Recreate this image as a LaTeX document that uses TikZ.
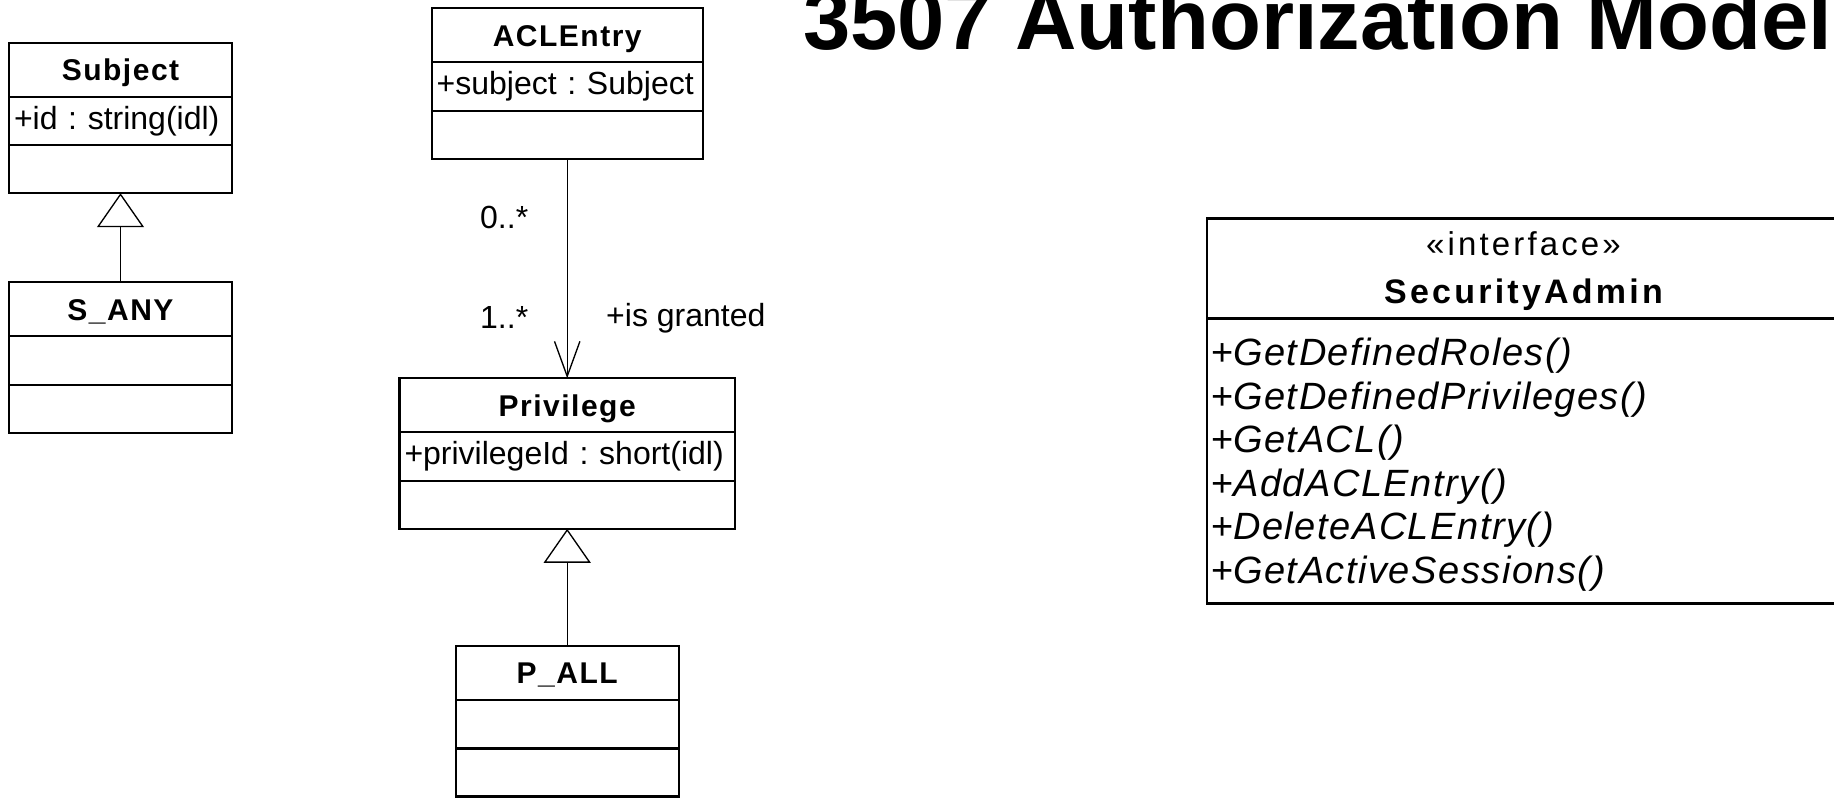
\documentclass[tikz,border=0pt]{standalone}
\usepackage{fontspec}
\setmainfont{Liberation Sans}
\newfontfamily\umlnamefont[LetterSpace=5]{Liberation Sans}
\newfontfamily\umlopfont[LetterSpace=4]{Liberation Sans}
\newfontfamily\umlwidefont[LetterSpace=9.5]{Liberation Sans}
\usetikzlibrary{positioning,arrows.meta}

\begin{document}
\frenchspacing
\begin{tikzpicture}[
    x=0.5pt, y=-0.5pt,
    every node/.style={outer sep=0pt},
    classname/.style={draw, rectangle, line width=1.15pt, minimum height=27pt, inner sep=0pt, text height=10.75pt, text depth=0pt, font=\umlnamefont\fontsize{15}{18}\bfseries},
    classattr/.style={draw, rectangle, line width=1.15pt, minimum height=24.25pt, inner xsep=2.5pt, align=left, font=\fontsize{16}{19}\selectfont},
    classops/.style={draw, rectangle, line width=1.15pt, minimum height=24pt},
    ifacebox/.style={draw, rectangle, line width=1.3pt, minimum width=316.5pt},
    inherit/.style={-{Triangle[open, length=17pt, width=23.5pt]}, line width=0.67pt},
    assoc/.style={-{Straight Barb[length=17.5pt, width=12.7pt]}, line width=0.67pt},
    mult/.style={inner sep=0pt, font=\fontsize{16}{19}\selectfont},
    opline/.style={inner sep=0pt, anchor=base west, font=\umlopfont\fontsize{19}{23}\selectfont}
]
\useasboundingbox (0,0) rectangle (1834,797);
\clip (0,0) rectangle (1834,797);

\node[inner sep=0pt, anchor=base west, font=\fontsize{42.5}{50}\bfseries] (title) at (803,50) {3507 Authorization Model};

% subjects
\node[classname, minimum width=111.5pt, anchor=north] (subject) at (120.5,42.7) {Subject};
\node[classattr, text width=106.5pt, below=0pt of subject] (subject-attr) {+id : string(idl)};
\node[classops, minimum width=111.5pt, below=0pt of subject-attr] (subject-ops) {};
\node[classname, minimum width=111.5pt, below=44.55pt of subject-ops] (sany) {S\_ANY};
\node[classops, minimum width=111.5pt, minimum height=24.25pt, below=0pt of sany] (sany-attr) {};
\node[classops, minimum width=111.5pt, below=0pt of sany-attr] (sany-ops) {};

% acl and privileges
\node[classname, minimum width=135.5pt, anchor=north] (aclentry) at (567.2,8.3) {ACLEntry};
\node[classattr, text width=130.5pt, below=0pt of aclentry] (aclentry-attr) {+subject : Subject};
\node[classops, minimum width=135.5pt, below=0pt of aclentry-attr] (aclentry-ops) {};
\node[classname, minimum width=167.7pt, below=109.75pt of aclentry-ops] (privilege) {Privilege};
\node[classattr, text width=162.7pt, below=0pt of privilege] (privilege-attr) {+privilegeId : short(idl)};
\node[classops, minimum width=167.7pt, below=0pt of privilege-attr] (privilege-ops) {};
\node[classname, minimum width=111.5pt, below=58.6pt of privilege-ops] (pall) {P\_ALL};
\node[classops, minimum width=111.5pt, minimum height=24.25pt, below=0pt of pall] (pall-attr) {};
\node[classops, minimum width=111.5pt, below=0pt of pall-attr] (pall-ops) {};

% interface
\node[ifacebox, minimum height=49.9pt, anchor=north west] (secadmin) at (1207,218.5) {};
\node[ifacebox, minimum height=142.6pt, below=0pt of secadmin] (secadmin-ops) {};
\node[inner sep=0pt, anchor=base, font=\umlwidefont\fontsize{16.5}{20}\selectfont] (secadmin-stereo) at (1523.5,255) {«interface»};
\node[inner sep=0pt, anchor=base, font=\umlwidefont\fontsize{17}{20}\bfseries] (secadmin-name) at (1523.5,303.3) {SecurityAdmin};
\foreach \op [count=\i from 0] in {GetDefinedRoles(), GetDefinedPrivileges(), GetACL(), AddACLEntry(), DeleteACLEntry(), GetActiveSessions()}
    \node[opline] (secadmin-op\i) at (1211,{365.5+43.5*\i}) {+\textit{\op}};

\draw[inherit] (sany.north) -- (subject-ops.south);
\draw[assoc] (aclentry-ops.south) -- (privilege.north)
    node[pos=0.267, left=19.5pt, mult] {0..*}
    node[pos=0.725, left=19.5pt, mult] {1..*}
    node[pos=0.725, right=19.5pt, mult] {+is granted};
\draw[inherit] (pall.north) -- (privilege-ops.south);
\end{tikzpicture}
\end{document}
